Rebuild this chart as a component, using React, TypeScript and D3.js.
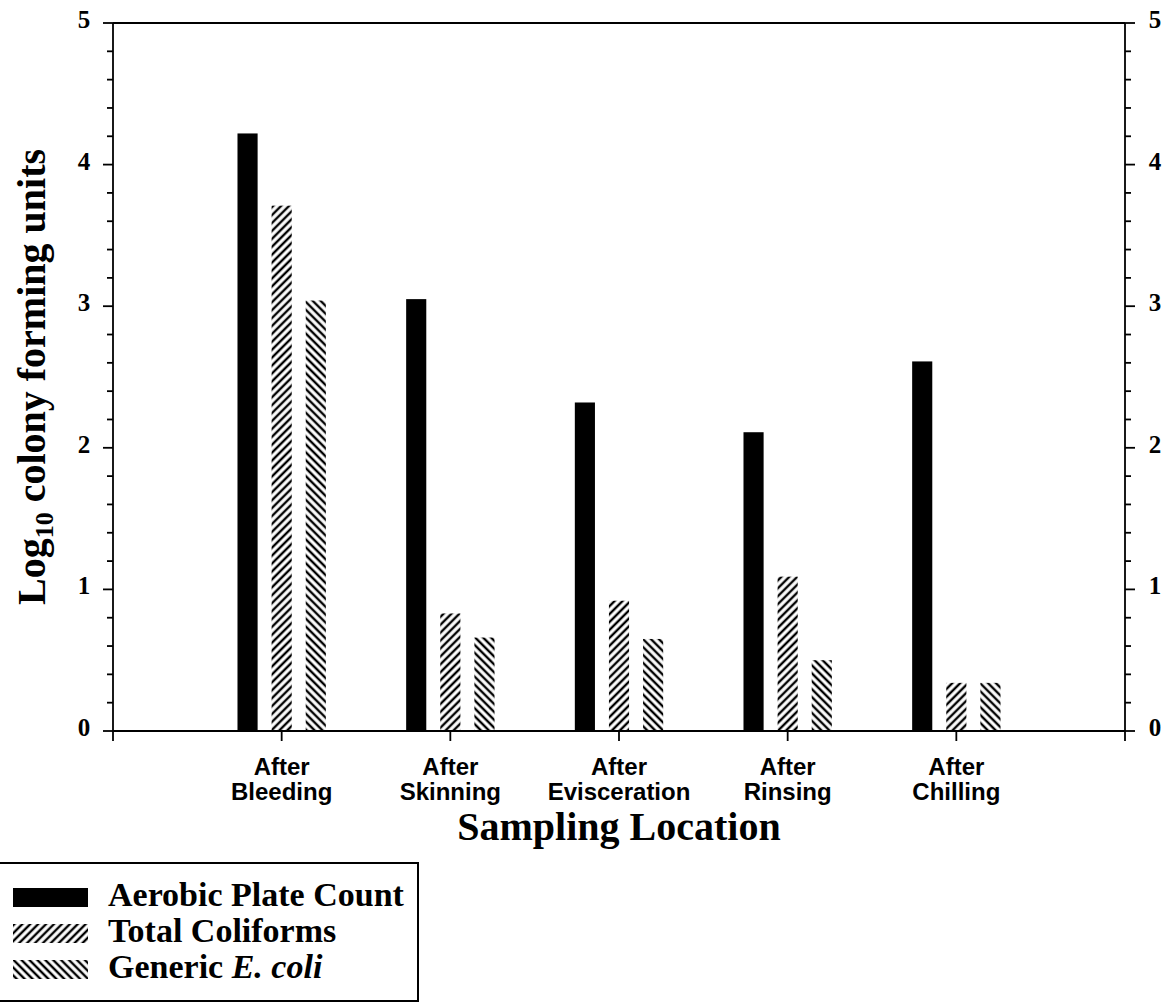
import React, { useEffect, useRef } from "react";
import * as d3 from "d3";

// sampling locations along the processing line
const categories = ["After Bleeding", "After Skinning", "After Evisceration", "After Rinsing", "After Chilling"];
const seriesNames = ["Aerobic Plate Count", "Total Coliforms", "Generic E. coli"];

// log10 CFU
const aerobicPlateCount = [4.22, 3.05, 2.32, 2.11, 2.61];
const totalColiforms = [3.71, 0.83, 0.92, 1.09, 0.34];
const genericEcoli = [3.04, 0.66, 0.65, 0.5, 0.34];

const yTicks = [0, 1, 2, 3, 4, 5];
const yMinorTicks = d3.range(0, 5.001, 0.2);

const serif = "'Liberation Serif', 'Times New Roman', Times, serif";
const sans = "'Liberation Sans', Arial, Helvetica, sans-serif";

export default function App() {
  const ref = useRef<SVGSVGElement>(null);

  useEffect(() => {
    const svg = d3.select(ref.current);
    svg.selectAll("*").remove();

    const left = 113;
    const right = 1125;
    const top = 23;
    const bottom = 731;

    const x = d3
      .scalePoint<string>()
      .domain(["_start", ...categories, "_end"])
      .range([left, right]);

    const inner = d3
      .scaleBand<string>()
      .domain(seriesNames)
      .range([-51, 51])
      .paddingInner(0.41)
      .paddingOuter(0.2);

    const y = d3.scaleLinear().domain([0, 5]).range([bottom, top]);

    // hatch patterns
    const defs = svg.append("defs");
    const hatch = (id: string, angle: number) => {
      const p = defs
        .append("pattern")
        .attr("id", id)
        .attr("patternUnits", "userSpaceOnUse")
        .attr("width", 5.6)
        .attr("height", 10)
        .attr("patternTransform", `rotate(${angle})`);
      p.append("line")
        .attr("x1", 2.8)
        .attr("x2", 2.8)
        .attr("y1", -1)
        .attr("y2", 11)
        .attr("stroke", "#000")
        .attr("stroke-width", 2.4);
    };
    hatch("hatchFwd", 45);
    hatch("hatchBack", -45);

    const fills = ["#000", "url(#hatchFwd)", "url(#hatchBack)"];
    const values = [aerobicPlateCount, totalColiforms, genericEcoli];

    // bars
    seriesNames.forEach((s, si) => {
      svg
        .append("g")
        .selectAll("rect")
        .data(categories)
        .enter()
        .append("rect")
        .attr("x", (c) => (x(c) as number) + (inner(s) as number))
        .attr("y", (c, i) => y(values[si][i]))
        .attr("width", inner.bandwidth())
        .attr("height", (c, i) => bottom - y(values[si][i]))
        .attr("fill", fills[si]);
    });

    const axis = svg.append("g").attr("stroke", "#000").attr("stroke-width", 1.8).attr("fill", "none");

    // frame: left, right, top, bottom
    axis.append("line").attr("x1", left).attr("x2", left).attr("y1", top).attr("y2", bottom);
    axis.append("line").attr("x1", right).attr("x2", right).attr("y1", top).attr("y2", bottom);
    axis.append("line").attr("x1", left).attr("x2", right).attr("y1", top).attr("y2", top);
    axis.append("line").attr("x1", left).attr("x2", right).attr("y1", bottom).attr("y2", bottom);

    // y ticks both sides
    yMinorTicks.forEach((t) => {
      const major = Math.abs(t - Math.round(t)) < 1e-6;
      const len = major ? 10 : 6;
      axis.append("line").attr("x1", left - len).attr("x2", left).attr("y1", y(t)).attr("y2", y(t));
      axis.append("line").attr("x1", right).attr("x2", right + len).attr("y1", y(t)).attr("y2", y(t));
    });

    // x ticks
    x.domain().forEach((c) => {
      axis
        .append("line")
        .attr("x1", x(c) as number)
        .attr("x2", x(c) as number)
        .attr("y1", bottom)
        .attr("y2", bottom + 10);
    });

    // y tick labels
    const tickText = svg
      .append("g")
      .attr("font-family", serif)
      .attr("font-weight", "bold")
      .attr("font-size", 25)
      .attr("text-anchor", "middle");
    yTicks.forEach((t) => {
      tickText.append("text").attr("x", 84).attr("y", y(t) + 5).text(t);
      tickText.append("text").attr("x", 1155).attr("y", y(t) + 5).text(t);
    });

    // x tick labels, two lines each
    const catText = svg
      .append("g")
      .attr("font-family", sans)
      .attr("font-weight", "bold")
      .attr("font-size", 24)
      .attr("text-anchor", "middle");
    categories.forEach((c) => {
      const a = c.slice(0, c.indexOf(" "));
      const b = c.slice(c.indexOf(" ") + 1);
      catText.append("text").attr("x", x(c) as number).attr("y", 775).text(a);
      catText.append("text").attr("x", x(c) as number).attr("y", 800).text(b);
    });

    // axis titles
    svg
      .append("text")
      .attr("x", 619)
      .attr("y", 840)
      .attr("text-anchor", "middle")
      .attr("font-family", serif)
      .attr("font-weight", "bold")
      .attr("font-size", 40)
      .text("Sampling Location");

    const yl = svg
      .append("text")
      .attr("transform", "translate(45,377) rotate(-90)")
      .attr("text-anchor", "middle")
      .attr("font-family", serif)
      .attr("font-weight", "bold")
      .attr("font-size", 40);
    yl.append("tspan").text("Log");
    yl.append("tspan").attr("font-size", 26).attr("dy", 8).text("10");
    yl.append("tspan").attr("dy", -8).text(" colony forming units");

    // legend
    const lg = svg.append("g");
    lg.append("rect")
      .attr("x", -2)
      .attr("y", 863)
      .attr("width", 420)
      .attr("height", 138)
      .attr("fill", "none")
      .attr("stroke", "#000")
      .attr("stroke-width", 2);
    seriesNames.forEach((s, i) => {
      const rowY = 888 + i * 36;
      lg.append("rect")
        .attr("x", 13)
        .attr("y", rowY)
        .attr("width", 75)
        .attr("height", 19)
        .attr("fill", fills[i]);
      const t = lg
        .append("text")
        .attr("x", 108)
        .attr("y", rowY + 18)
        .attr("font-family", serif)
        .attr("font-weight", "bold")
        .attr("font-size", 34);
      if (s === "Generic E. coli") {
        t.append("tspan").text("Generic ");
        t.append("tspan").attr("font-style", "italic").text("E. coli");
      } else {
        t.text(s);
      }
    });
  }, []);

  return (
    <svg
      ref={ref}
      width={1172}
      height={1004}
      style={{ position: "absolute", left: 0, top: 0, background: "#fff" }}
    />
  );
}
